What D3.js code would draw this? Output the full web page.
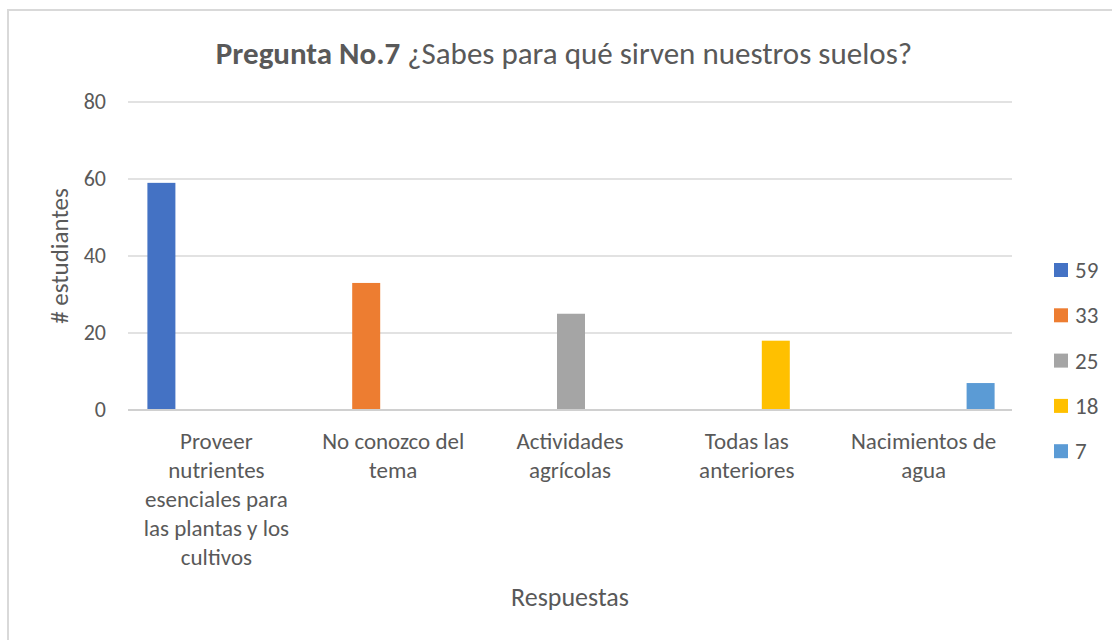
<!DOCTYPE html><meta charset="utf-8">
<style>*{margin:0}body{background:#fff}text{font-family:Carlito,Calibri,Lato,sans-serif;fill:#595959}</style>
<svg width="1112" height="640"></svg>
<script src="https://d3js.org/d3.v7.min.js"></script>
<script>
const categories = ["Proveer nutrientes esenciales para las plantas y los cultivos",
                    "No conozco del tema","Actividades agrícolas",
                    "Todas las anteriores","Nacimientos de agua"];
const seriesNames = ["59","33","25","18","7"];
const values = [59,33,25,18,7];
const colors = ["#4472c4","#ed7d31","#a5a5a5","#ffc000","#5b9bd5"];
const yTicks = [0,20,40,60,80];

const svg = d3.select("svg"),
      m = {left:128, right:1012, top:102, bottom:410};

// outer frame (only top / left edges show)
svg.append("path").attr("d","M8,640V10H1112").attr("fill","none")
   .attr("stroke","#d9d9d9").attr("stroke-width",2);

const y = d3.scaleLinear().domain([0,80]).range([m.bottom,m.top]);
const x0 = d3.scaleBand().domain(categories).range([m.left,m.right]);
const x1 = d3.scaleBand().domain(seriesNames)
             .range([(x0.bandwidth()-140)/2+1,(x0.bandwidth()+140)/2+1]);

svg.append("g").selectAll("line").data(yTicks).join("line")     // gridlines
   .attr("x1",m.left).attr("x2",m.right)
   .attr("y1",d=>y(d)).attr("y2",d=>y(d))
   .attr("stroke",d=>d?"#d9d9d9":"#d0d0d0").attr("stroke-width",d=>d?1.3:2);

svg.append("g").selectAll("text").data(yTicks).join("text")
   .attr("x",m.left-22).attr("y",d=>y(d)+7).attr("text-anchor","end")
   .attr("font-size",22).text(d=>d);

svg.append("g").selectAll("rect").data(values).join("rect")     // bars
   .attr("x",(d,i)=>x0(categories[i])+x1(seriesNames[i]))
   .attr("width",x1.bandwidth())
   .attr("y",d=>y(d)).attr("height",d=>y(0)-y(d)-1)
   .attr("fill",(d,i)=>colors[i]);

// category labels, wrapped
const lab = svg.append("g").selectAll("text").data(categories).join("text")
   .attr("text-anchor","middle").attr("font-size",23)
   .attr("transform",d=>`translate(${x0(d)+x0.bandwidth()/2},449)`);
lab.each(function(d){
  const t = d3.select(this), words = d.split(" "), lines=[];
  let line = [];
  const probe = t.append("tspan");
  words.forEach(w=>{
    line.push(w); probe.text(line.join(" "));
    if(probe.node().getComputedTextLength()>162 && line.length>1){
      line.pop(); lines.push(line.join(" ")); line=[w];
    }
  });
  lines.push(line.join(" ")); probe.remove();
  lines.forEach((l,i)=>t.append("tspan").attr("x",0).attr("dy",i?29:0).text(l));
});

svg.append("text").attr("x",(m.left+m.right)/2).attr("y",606)
   .attr("text-anchor","middle").attr("font-size",26).text("Respuestas");
svg.append("text").attr("transform",`translate(68,${(m.top+m.bottom)/2}) rotate(-90)`)
   .attr("text-anchor","middle").attr("font-size",25).text("# estudiantes");

const title = svg.append("text").attr("x",564).attr("y",64)
   .attr("text-anchor","middle").attr("font-size",31);
title.append("tspan").attr("font-weight","bold").text("Pregunta No.7");
title.append("tspan").text(" ¿Sabes para qué sirven nuestros suelos?");

const lg = svg.append("g").selectAll("g").data(seriesNames).join("g")
   .attr("transform",(d,i)=>`translate(1054,${270+i*45.3})`);
lg.append("rect").attr("x",0).attr("y",-7).attr("width",14).attr("height",14)
   .attr("fill",(d,i)=>colors[i]);
lg.append("text").attr("x",21).attr("y",8).attr("font-size",23).text(d=>d);
</script>
